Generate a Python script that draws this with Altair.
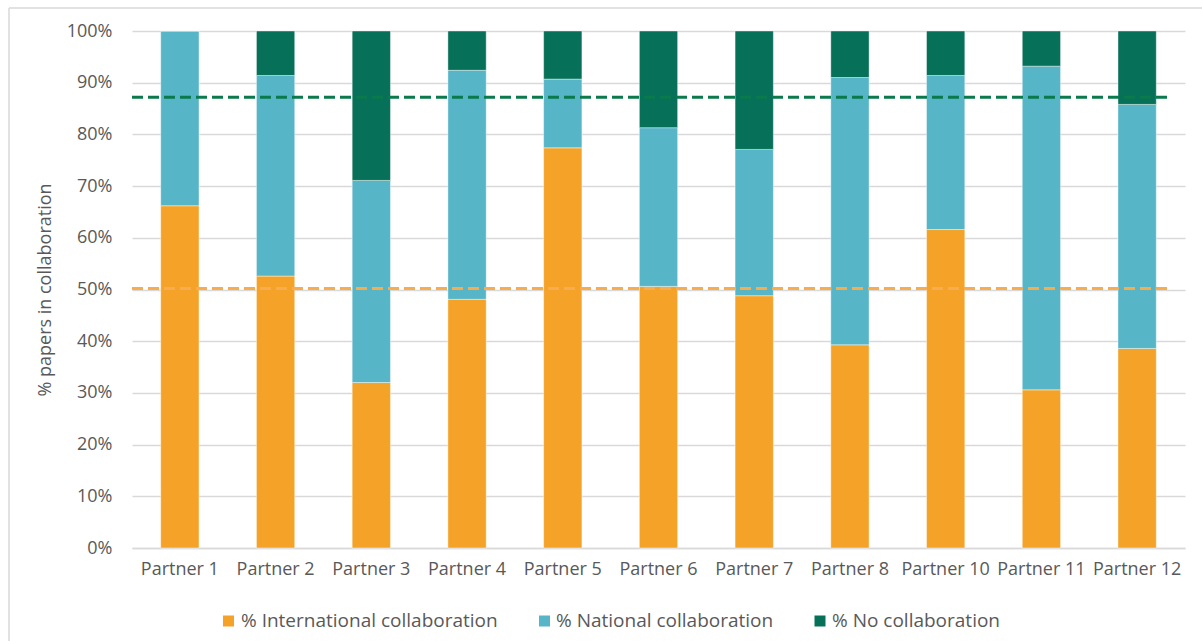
import altair as alt
import pandas as pd

# Share of papers by collaboration type for each partner (%)
partners = ["Partner 1", "Partner 2", "Partner 3", "Partner 4", "Partner 5", "Partner 6",
            "Partner 7", "Partner 8", "Partner 10", "Partner 11", "Partner 12"]
international = [66.2, 52.6, 32.0, 48.1, 77.4, 50.6, 48.8, 39.3, 61.6, 30.6, 38.6]
national = [33.8, 38.8, 39.1, 44.3, 13.3, 30.7, 28.3, 51.7, 29.8, 62.6, 47.2]
no_collab = [0.0, 8.6, 28.9, 7.6, 9.3, 18.7, 22.9, 9.0, 8.6, 6.8, 14.2]

series = ["% International collaboration", "% National collaboration", "% No collaboration"]
colors = ["#F4A328", "#57B5C8", "#077058"]

# Reference levels drawn as dashed lines
ref_levels = [87.2, 50.2]
ref_colors = ["#0A7A4C", "#F8AC4E"]

rows = []
for i, p in enumerate(partners):
    for k, vals in enumerate([international, national, no_collab]):
        rows.append({"partner": p, "series": series[k], "order": k, "value": vals[i] / 100})
df = pd.DataFrame(rows)
ref_df = pd.DataFrame({"level": [v / 100 for v in ref_levels], "color": ref_colors})

W, H = 1053, 517
FONT = "Open Sans"
TXT = "#595959"

bars = alt.Chart(df).mark_bar(stroke="white", strokeWidth=0.6, strokeOpacity=0.7).encode(
    x=alt.X("partner:N", sort=partners,
            scale=alt.Scale(paddingInner=0.6, paddingOuter=0.3),
            axis=alt.Axis(title=None, labelAngle=0, labelFontSize=18, labelFont=FONT,
                          labelColor=TXT, labelPadding=12, ticks=False,
                          domainColor="#D9D9D9", domainWidth=1.5)),
    y=alt.Y("value:Q", stack="zero",
            scale=alt.Scale(domain=[0, 1], nice=False),
            axis=alt.Axis(title="% papers in collaboration", format=".0%", values=[i / 10 for i in range(11)],
                          labelFontSize=18, labelFont=FONT, labelColor=TXT, labelPadding=20,
                          titleFontSize=18, titleFont=FONT, titleColor=TXT, titleFontWeight="normal",
                          titlePadding=12, ticks=False, domain=False,
                          gridColor="#D9D9D9", gridWidth=1.5)),
    color=alt.Color("series:N", scale=alt.Scale(domain=series, range=colors), legend=None),
    order=alt.Order("order:Q", sort="ascending"),
)

refs = alt.Chart(ref_df).mark_rule(strokeDash=[11, 5], strokeWidth=3).encode(
    y=alt.Y("level:Q"),
    x=alt.value(0),
    x2=alt.value(1036),
    color=alt.Color("color:N", scale=None),
)

# Legend row below the axis: swatch centres and label starts (pixels from plot origin)
swatch_x = [96.5, 412.5, 688.0]
label_x = [109, 424, 700]
legend_df = pd.DataFrame({"series": series, "color": colors, "sx": swatch_x, "tx": label_x})

legend_swatches = alt.Chart(legend_df).mark_square(size=121, opacity=1).encode(
    x=alt.X("sx:Q", scale=None), y=alt.value(590),
    color=alt.Color("color:N", scale=None),
)
legend_labels = alt.Chart(legend_df).mark_text(
    align="left", baseline="alphabetic", font=FONT, fontSize=19, color=TXT
).encode(
    x=alt.X("tx:Q", scale=None), y=alt.value(596), text="series:N",
)

# Thin frame around the chart area
frame_v = alt.Chart(pd.DataFrame({"a": [0]})).mark_rule(color="#D9D9D9", strokeWidth=1.5).encode(
    x=alt.value(-123), y=alt.value(-23), y2=alt.value(H + 100))
frame_h = alt.Chart(pd.DataFrame({"a": [0]})).mark_rule(color="#D9D9D9", strokeWidth=1.5).encode(
    x=alt.value(-123), x2=alt.value(W + 100), y=alt.value(-23))

chart = alt.layer(bars, refs, legend_swatches, legend_labels, frame_v, frame_h).properties(
    width=W, height=H,
    autosize=alt.AutoSizeParams(type="none"),
    padding={"left": 132, "top": 31, "right": 17, "bottom": 93},
    background="white",
).configure_view(stroke=None)

chart.save("out.html", embed_options={"renderer": "svg", "actions": False})
